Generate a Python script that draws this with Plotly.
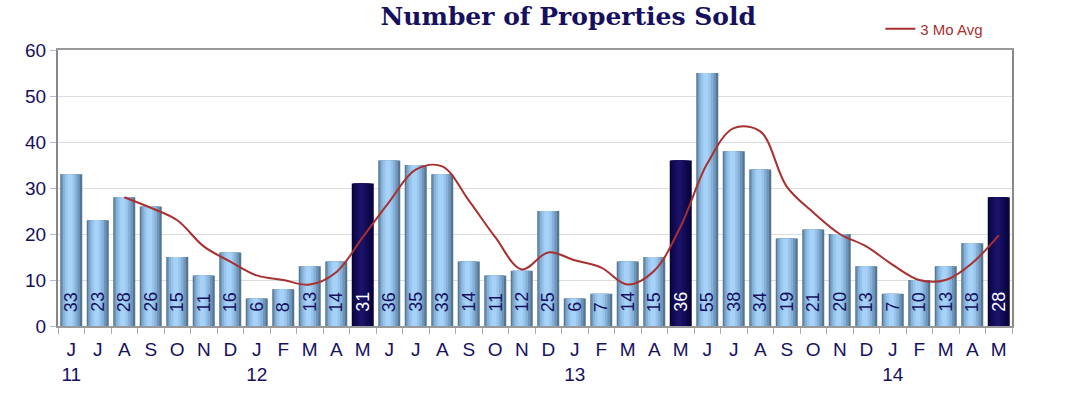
import plotly.graph_objects as go

months = ["J", "J", "A", "S", "O", "N", "D", "J", "F", "M", "A", "M",
          "J", "J", "A", "S", "O", "N", "D", "J", "F", "M", "A", "M",
          "J", "J", "A", "S", "O", "N", "D", "J", "F", "M", "A", "M"]
years = {0: "11", 7: "12", 19: "13", 31: "14"}
sold = [33, 23, 28, 26, 15, 11, 16, 6, 8, 13, 14, 31,
        36, 35, 33, 14, 11, 12, 25, 6, 7, 14, 15, 36,
        55, 38, 34, 19, 21, 20, 13, 7, 10, 13, 18, 28]
highlight = [11, 23, 35]  # May bars shown dark
avg3_start = 2
avg3 = [28, 25.7, 23, 17.3, 14, 11, 10, 9, 11.7, 19.3, 27, 34, 34.7, 27.3,
        19.3, 12.3, 16, 14.3, 12.7, 9, 12, 21.7, 35.3, 43, 42.3, 30.3, 24.7,
        20, 17.3, 13.3, 10, 10, 13.7, 19.7]

n = len(sold)
xs = list(range(n))
ticktext = [m + ("<br>" + years[i] if i in years else "<br> ") for i, m in enumerate(months)]

NAVY = "#16105f"
fig = go.Figure()

# layered bars to imitate the cylinder shading
layers = [
    (0.83, 0.0, "#56768f", "#07033a"),
    (0.70, -0.02, "#6f96ba", "#0b0645"),
    (0.55, -0.04, "#86b0d8", "#100a52"),
    (0.38, -0.05, "#98c4ec", "#150e5c"),
    (0.20, -0.05, "#a6d2f8", "#1a1266"),
]
for w, sh, c_light, c_dark in layers:
    colors = [c_dark if i in highlight else c_light for i in xs]
    fig.add_trace(go.Bar(
        x=xs, y=sold, width=w, offset=-w / 2 + sh,
        marker=dict(color=colors, line=dict(width=0)),
        showlegend=False, hoverinfo="skip"))

fig.add_trace(go.Scatter(
    x=xs[avg3_start:avg3_start + len(avg3)], y=avg3, mode="lines",
    line=dict(color="#a8302f", width=2, shape="spline", smoothing=1.0),
    name="3 Mo Avg"))

# vertical value labels inside the bars
for i, v in enumerate(sold):
    fig.add_annotation(
        x=i, y=0, text=str(v), textangle=-90, showarrow=False,
        xanchor="center", yanchor="bottom", yshift=12,
        font=dict(family="Liberation Sans", size=18,
                  color="white" if i in highlight else NAVY))

fig.update_layout(
    width=1070, height=396,
    margin=dict(l=58, r=58, t=50, b=70, autoexpand=False),
    paper_bgcolor="white", plot_bgcolor="white",
    barmode="overlay",
    title=dict(text="<b>Number of Properties Sold</b>",
               font=dict(family="DejaVu Serif", size=25, color=NAVY),
               x=0.531, xanchor="center", xref="container",
               y=0.958, yanchor="middle", yref="container"),
    legend=dict(x=0.862, xanchor="left", y=1.076, yanchor="middle",
                font=dict(family="Liberation Sans", size=15, color="#a8302f"),
                bgcolor="rgba(0,0,0,0)"),
    xaxis=dict(
        range=[-0.5, n - 0.5], tickmode="array", tickvals=xs, ticktext=ticktext,
        ticks="", showgrid=False, zeroline=False, automargin=False,
        ticklabelstandoff=5,
        showline=True, linecolor="#999999", linewidth=2, mirror=True,
        tickfont=dict(family="Liberation Sans", size=19, color=NAVY),
        minor=dict(tickmode="linear", tick0=-0.5, dtick=1, ticks="outside",
                   ticklen=6, tickcolor="#aaaaaa", tickwidth=1, showgrid=False),
    ),
    yaxis=dict(
        range=[0, 60], tickmode="linear", tick0=0, dtick=10,
        ticks="outside", ticklen=6, tickcolor="#b8b8d8", automargin=False,
        showgrid=True, gridcolor="#dddddd", gridwidth=1, zeroline=False,
        showline=True, linecolor="#888888", linewidth=2, mirror=True,
        tickfont=dict(family="Liberation Sans", size=19, color=NAVY),
    ),
)

# remove the default 8px page margin so the figure fills the window exactly
fig.write_html("out.html", config={"displayModeBar": False},
               post_script="document.body.style.margin='0';")
